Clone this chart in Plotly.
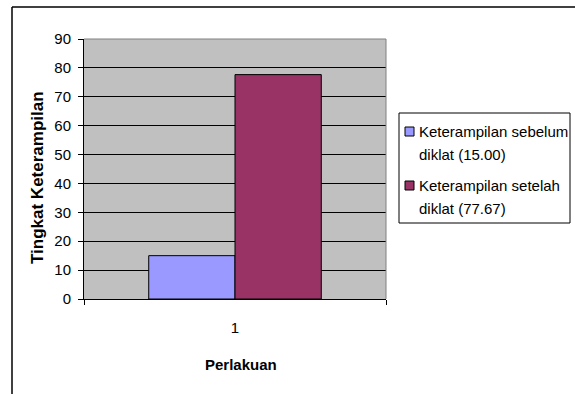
import plotly.graph_objects as go

# ---- data ----
categories = ["1"]
series_names = ["Keterampilan sebelum diklat", "Keterampilan setelah diklat"]
series_values = [[15.00], [77.67]]
series_colors = ["#9999FF", "#993366"]
y_ticks = [0, 10, 20, 30, 40, 50, 60, 70, 80, 90]
y_title = "Tingkat Keterampilan"
x_title = "Perlakuan"

W, H = 575, 394
L, R, T, B = 84, 386, 39, 299  # plot area in pixels


def xp(px):
    return (px - L) / (R - L)


def yp(py):
    return (B - py) / (B - T)


FONT = "Liberation Sans, Arial, sans-serif"

fig = go.Figure()
for name, vals, col in zip(series_names, series_values, series_colors):
    fig.add_trace(go.Bar(
        x=categories, y=vals, name=name,
        marker=dict(color=col, line=dict(color="black", width=1)),
        showlegend=False,
    ))

shapes = []
annotations = []

# outer chart border (extends past the right and bottom edges)
shapes.append(dict(type="line", xref="paper", yref="paper",
                   x0=xp(12), x1=xp(12), y0=yp(7), y1=yp(420),
                   line=dict(color="black", width=1.5), layer="above"))
shapes.append(dict(type="line", xref="paper", yref="paper",
                   x0=xp(12), x1=xp(600), y0=yp(7), y1=yp(7),
                   line=dict(color="black", width=1.5), layer="above"))
# plot area top/right border (gray)
shapes.append(dict(type="line", xref="paper", yref="paper",
                   x0=0, x1=1, y0=1, y1=1,
                   line=dict(color="#808080", width=1), layer="above"))
shapes.append(dict(type="line", xref="paper", yref="paper",
                   x0=1, x1=1, y0=0, y1=1,
                   line=dict(color="#808080", width=1), layer="above"))

# manual legend
shapes.append(dict(type="rect", xref="paper", yref="paper",
                   x0=xp(399), x1=xp(570), y0=yp(223), y1=yp(113),
                   line=dict(color="black", width=1), fillcolor="white",
                   layer="above"))
item_tops = [127, 181]
for i, (name, vals, col) in enumerate(zip(series_names, series_values, series_colors)):
    top = item_tops[i]
    shapes.append(dict(type="rect", xref="paper", yref="paper",
                       x0=xp(405), x1=xp(414), y0=yp(top + 9), y1=yp(top),
                       line=dict(color="black", width=1), fillcolor=col,
                       layer="above"))
    words = name.split(" ")
    lines = [" ".join(words[:2]), " ".join(words[2:]) + " (%.2f)" % vals[0]]
    for j, ln in enumerate(lines):
        annotations.append(dict(
            text=ln, xref="paper", yref="paper",
            x=xp(417), y=yp(top + 4 + 23 * j),
            xanchor="left", yanchor="middle", showarrow=False,
            font=dict(family=FONT, size=15, color="black"),
        ))

# axis titles
annotations.append(dict(
    text="<b>%s</b>" % y_title, xref="paper", yref="paper",
    x=xp(37), y=yp(178), textangle=-90,
    xanchor="center", yanchor="middle", showarrow=False,
    font=dict(family=FONT, size=17, color="black"),
))
annotations.append(dict(
    text="<b>%s</b>" % x_title, xref="paper", yref="paper",
    x=xp(241), y=yp(364),
    xanchor="center", yanchor="middle", showarrow=False,
    font=dict(family=FONT, size=15, color="black"),
))

fig.update_layout(
    width=W, height=H,
    margin=dict(l=L, r=W - R, t=T, b=H - B, pad=0),
    paper_bgcolor="white",
    plot_bgcolor="#C0C0C0",
    barmode="group",
    bargap=0.4286,
    bargroupgap=0,
    showlegend=False,
    shapes=shapes,
    annotations=annotations,
    font=dict(family=FONT, size=15, color="black"),
    xaxis=dict(
        type="category", tickson="boundaries",
        ticks="outside", ticklen=5, tickcolor="black", tickwidth=1,
        showline=True, linecolor="black", linewidth=1,
        showgrid=False, zeroline=False,
        tickfont=dict(family=FONT, size=15, color="black"),
        ticklabelstandoff=15,
        fixedrange=True,
    ),
    yaxis=dict(
        range=[0, 90], tickvals=y_ticks,
        ticks="outside", ticklen=5, tickcolor="black", tickwidth=1,
        showline=True, linecolor="black", linewidth=1,
        showgrid=True, gridcolor="black", gridwidth=1,
        zeroline=False,
        tickfont=dict(family=FONT, size=15, color="black"),
        ticklabelstandoff=4,
        fixedrange=True,
    ),
)

fig.write_html("out.html", config={"displayModeBar": False})
